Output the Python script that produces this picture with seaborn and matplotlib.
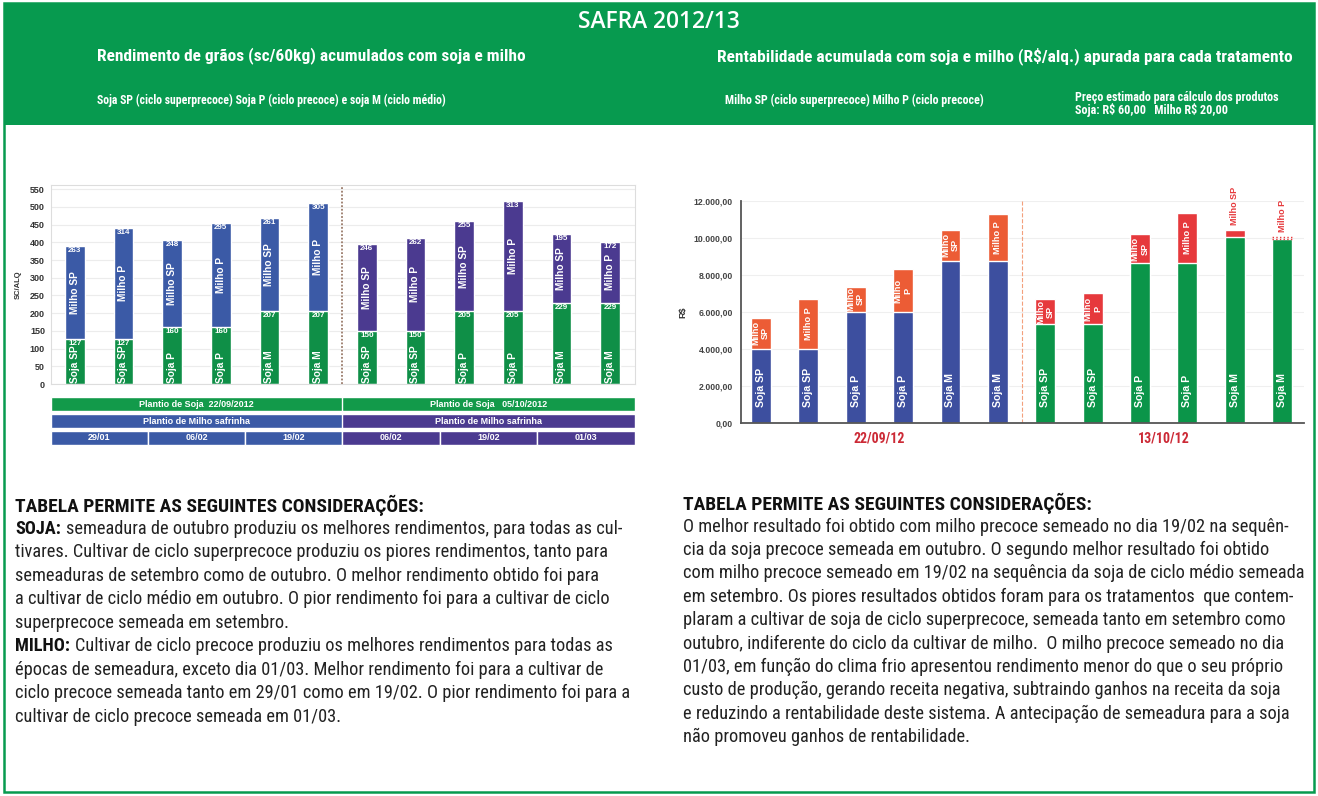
import matplotlib
matplotlib.use("Agg")
import numpy as np
import pandas as pd
import matplotlib.pyplot as plt
import seaborn as sns
from matplotlib import font_manager
from matplotlib.patches import Rectangle

# Left chart - grain yield (sc/alq), soja + milho safrinha
yield_soja = [127, 127, 160, 160, 207, 207, 150, 150, 205, 205, 229, 229]
yield_milho = [263, 314, 248, 295, 261, 305, 246, 262, 255, 313, 195, 172]
soja_names = ["Soja SP", "Soja SP", "Soja P", "Soja P", "Soja M", "Soja M"] * 2
milho_names = ["Milho SP", "Milho P"] * 6
soja_rows = ["Plantio de Soja  22/09/2012", "Plantio de Soja   05/10/2012"]
milho_row = "Plantio de Milho safrinha"
milho_dates = ["29/01", "06/02", "19/02", "06/02", "19/02", "01/03"]

# Right chart - accumulated profit (R$/alq)
profit_soja = [4000, 4000, 6000, 6000, 8780, 8780, 5350, 5350, 8660, 8660, 10070, 10070]
profit_milho = [1700, 2700, 1370, 2310, 1650, 2520, 1350, 1660, 1540, 2670, 360, -140]
profit_milho_labels = ["Milho\nSP", "Milho P", "Milho\nSP", "Milho\nP", "Milho\nSP", "Milho P",
                       "Milho\nSP", "Milho\nP", "Milho\nSP", "Milho P", "Milho SP", "Milho P"]
profit_groups = ["22/09/12", "13/10/12"]

TITLE = "SAFRA 2012/13"
LEFT_TITLE = "Rendimento de grãos (sc/60kg) acumulados com soja e milho"
RIGHT_TITLE = "Rentabilidade acumulada com soja e milho (R$/alq.) apurada para cada tratamento"
LEFT_SUB = "Soja SP (ciclo superprecoce) Soja P (ciclo precoce) e soja M (ciclo médio)"
RIGHT_SUB = "Milho SP (ciclo superprecoce) Milho P (ciclo precoce)"
PRICE_NOTE = ["Preço estimado para cálculo dos produtos", "Soja: R$ 60,00   Milho R$ 20,00"]

HEAD = "TABELA PERMITE AS SEGUINTES CONSIDERAÇÕES:"
left_lines = [
    ("SOJA:", "semeadura de outubro produziu os melhores rendimentos, para todas as cul-"),
    ("", "tivares. Cultivar de ciclo superprecoce produziu os piores rendimentos, tanto para"),
    ("", "semeaduras de setembro como de outubro. O melhor rendimento obtido foi para"),
    ("", "a cultivar de ciclo médio em outubro. O pior rendimento foi para a cultivar de ciclo"),
    ("", "superprecoce semeada em setembro."),
    ("MILHO:", "Cultivar de ciclo precoce produziu os melhores rendimentos para todas as"),
    ("", "épocas de semeadura, exceto dia 01/03. Melhor rendimento foi para a cultivar de"),
    ("", "ciclo precoce semeada tanto em 29/01 como em 19/02. O pior rendimento foi para a"),
    ("", "cultivar de ciclo precoce semeada em 01/03."),
]
right_lines = [
    "O melhor resultado foi obtido com milho precoce semeado no dia 19/02 na sequên-",
    "cia da soja precoce semeada em outubro. O segundo melhor resultado foi obtido",
    "com milho precoce semeado em 19/02 na sequência da soja de ciclo médio semeada",
    "em setembro. Os piores resultados obtidos foram para os tratamentos  que contem-",
    "plaram a cultivar de soja de ciclo superprecoce, semeada tanto em setembro como",
    "outubro, indiferente do ciclo da cultivar de milho.  O milho precoce semeado no dia",
    "01/03, em função do clima frio apresentou rendimento menor do que o seu próprio",
    "custo de produção, gerando receita negativa, subtraindo ganhos na receita da soja",
    "e reduzindo a rentabilidade deste sistema. A antecipação de semeadura para a soja",
    "não promoveu ganhos de rentabilidade.",
]

# Colours
GREEN = "#079a4f"
SOJA_GREEN = "#0f8f47"
MILHO_BLUE = "#3b5aa6"
MILHO_PURPLE = "#4b3a90"
R_SOJA_BLUE = "#3d4f9f"
R_MILHO_ORANGE = "#ec5c35"
R_SOJA_GREEN = "#0b9549"
R_MILHO_RED = "#e6393c"
DATE_RED = "#cc2a36"

W, H = 1318, 796
BAR_W = 0.41


def pick_narrow_font():
    fl = font_manager.fontManager.ttflist
    names = {f.name for f in fl}
    for name in ["Liberation Sans Narrow", "Roboto Condensed", "Open Sans Condensed",
                 "DejaVu Sans Condensed"]:
        if name in names:
            return {"family": name}
    if any(f.name == "DejaVu Sans" and str(f.stretch) in ("condensed", "semi-condensed") for f in fl):
        return {"family": "DejaVu Sans", "fontstretch": "condensed"}
    return {"family": "Roboto"}


def px_axes(fig, x0, y0, x1, y1):
    # axes placed by pixel box (top-left origin)
    return fig.add_axes([x0 / W, 1 - y1 / H, (x1 - x0) / W, (y1 - y0) / H])


def fit_text(ax, renderer, x, y, s, width, size=12, **kw):
    t = ax.text(x, y, s, fontsize=size, **kw)
    w = t.get_window_extent(renderer).width
    t.set_fontsize(size * width / w)
    return t


def fmt_brl(v):
    s = f"{v:,.2f}"
    return s.replace(",", "_").replace(".", ",").replace("_", ".")


def main():
    sns.set_style("white")
    plt.rcParams["font.family"] = ["Liberation Sans", "DejaVu Sans"]
    plt.rcParams["text.parse_math"] = False

    fig = plt.figure(figsize=(W / 100, H / 100), dpi=100)
    renderer = fig.canvas.get_renderer()
    narrow = pick_narrow_font()

    # Background / header in pixel coordinates
    bg = fig.add_axes([0, 0, 1, 1])
    bg.set_xlim(0, W)
    bg.set_ylim(H, 0)
    bg.axis("off")
    bg.add_patch(Rectangle((4, 3), 1310, 789, fill=False, ec=GREEN, lw=1.8))
    bg.add_patch(Rectangle((4, 3), 1310, 122, fc=GREEN, ec="none"))

    fit_text(bg, renderer, 659, 22, TITLE, 162, ha="center", va="center",
             color="white", family=["Open Sans", "DejaVu Sans"], fontweight="semibold")
    fit_text(bg, renderer, 97, 56, LEFT_TITLE, 430, va="center", color="white",
             fontweight="bold", **narrow)
    fit_text(bg, renderer, 717, 56, RIGHT_TITLE, 576, va="center", color="white",
             fontweight="bold", **narrow)
    fit_text(bg, renderer, 97, 100, LEFT_SUB, 352, va="center", color="white",
             fontweight="bold", **narrow)
    fit_text(bg, renderer, 725, 100, RIGHT_SUB, 260, va="center", color="white",
             fontweight="bold", **narrow)
    t = fit_text(bg, renderer, 1075, 97, PRICE_NOTE[0], 206, va="center", color="white",
                 fontweight="bold", **narrow)
    bg.text(1075, 110, PRICE_NOTE[1], va="center", color="white", fontweight="bold",
            fontsize=t.get_fontsize(), **narrow)

    # ---------------- Left chart: yield ----------------
    ax1 = px_axes(fig, 50.5, 185, 634.5, 384)
    group = np.repeat(["set", "out"], 6)
    df1 = pd.DataFrame({"pos": np.arange(12), "soja": yield_soja,
                        "total": np.add(yield_soja, yield_milho), "group": group})
    sns.barplot(df1, x="pos", y="total", hue="group", palette={"set": MILHO_BLUE, "out": MILHO_PURPLE},
                dodge=False, width=BAR_W, saturation=1, legend=False, errorbar=None, ax=ax1)
    sns.barplot(df1, x="pos", y="soja", hue="group", palette={"set": SOJA_GREEN, "out": SOJA_GREEN},
                dodge=False, width=BAR_W, saturation=1, legend=False, errorbar=None, ax=ax1)
    ax1.set_xlim(-0.5, 11.5)
    ax1.set_ylim(0, 562)
    ax1.set_yticks(np.arange(0, 551, 50))
    ax1.set_yticklabels([str(v) for v in range(0, 551, 50)], fontsize=6.5, fontweight="bold", color="#333333")
    ax1.set_xticks([])
    ax1.set_xlabel("")
    ax1.set_ylabel("SC/ALQ", fontsize=5.5, fontweight="bold", color="#333333")
    ax1.yaxis.set_label_coords(-0.05, 0.5)
    ax1.tick_params(axis="y", length=0, pad=4)
    ax1.grid(axis="y", color="#ececec", lw=0.8)
    ax1.set_axisbelow(True)
    for sp in ax1.spines.values():
        sp.set_color("#dddddd")
        sp.set_linewidth(0.8)
    ax1.axvline(5.5, color="#9a7b6a", ls=(0, (1, 1)), lw=1.3)

    for i in range(12):
        s, m = yield_soja[i], yield_milho[i]
        ax1.text(i, 4, soja_names[i], rotation=90, ha="center", va="bottom",
                 color="white", fontsize=7.3, fontweight="bold")
        ax1.text(i, s - 3, str(s), ha="center", va="top", color="white", fontsize=5.8, fontweight="bold")
        ax1.text(i, s + m / 2, milho_names[i], rotation=90, ha="center", va="center",
                 color="white", fontsize=7.3, fontweight="bold")
        ax1.text(i, s + m - 3, str(m), ha="center", va="top", color="white", fontsize=5.8, fontweight="bold")

    # table under the left chart
    tab = px_axes(fig, 50.5, 396, 634.5, 447)
    tab.set_xlim(-0.5, 11.5)
    tab.set_ylim(51, 0)
    tab.axis("off")
    row_fill = [MILHO_BLUE, MILHO_PURPLE]
    for k in range(2):
        x0 = -0.5 + 6 * k
        tab.add_patch(Rectangle((x0, 1), 6, 14, fc="#129a4a", ec="white", lw=1))
        tab.text(x0 + 3, 8, soja_rows[k], ha="center", va="center", color="white", fontsize=6.5, fontweight="bold")
        tab.add_patch(Rectangle((x0, 18), 6, 14, fc=row_fill[k], ec="white", lw=1))
        tab.text(x0 + 3, 25, milho_row, ha="center", va="center", color="white", fontsize=6.5, fontweight="bold")
    for j, d in enumerate(milho_dates):
        x0 = -0.5 + 2 * j
        tab.add_patch(Rectangle((x0, 35), 2, 14, fc=row_fill[j // 3], ec="white", lw=1))
        tab.text(x0 + 1, 42, d, ha="center", va="center", color="white", fontsize=6.5, fontweight="bold")

    # ---------------- Right chart: profit ----------------
    ax2 = px_axes(fig, 741, 201, 1304, 423)
    total2 = np.add(profit_soja, profit_milho)
    df2 = pd.DataFrame({"pos": np.arange(12), "total": total2,
                        "base": np.minimum(profit_soja, total2), "group": group})
    sns.barplot(df2, x="pos", y="total", hue="group", palette={"set": R_MILHO_ORANGE, "out": R_MILHO_RED},
                dodge=False, width=0.42, saturation=1, legend=False, errorbar=None, ax=ax2)
    sns.barplot(df2, x="pos", y="base", hue="group", palette={"set": R_SOJA_BLUE, "out": R_SOJA_GREEN},
                dodge=False, width=0.42, saturation=1, legend=False, errorbar=None, ax=ax2)
    ax2.set_xlim(-0.42, 11.46)
    ax2.set_ylim(0, 12000)
    yt = np.arange(0, 12001, 2000)
    ax2.set_yticks(yt)
    ax2.set_yticklabels([fmt_brl(v) for v in yt], fontsize=6.3, fontweight="bold", color="#444444")
    ax2.set_xticks([])
    ax2.set_xlabel("")
    ax2.set_ylabel("R$", fontsize=6.5, fontweight="bold", color="#333333")
    ax2.yaxis.set_label_coords(-0.095, 0.5)
    ax2.tick_params(axis="y", length=0, pad=6)
    ax2.grid(axis="y", color="#efefef", lw=0.8)
    ax2.set_axisbelow(True)
    for side in ["top", "right"]:
        ax2.spines[side].set_visible(False)
    for side in ["left", "bottom"]:
        ax2.spines[side].set_color("#555555")
        ax2.spines[side].set_linewidth(1.3)
    ax2.axvline(5.5, color="#f3a07c", ls="--", lw=0.8)

    for i in range(12):
        s, m = profit_soja[i], profit_milho[i]
        red = R_MILHO_ORANGE if i < 6 else R_MILHO_RED
        ax2.text(i, 850, soja_names[i], rotation=90, ha="center", va="bottom",
                 color="white", fontsize=7.6, fontweight="bold")
        if i < 10:
            ax2.text(i, s + m / 2, profit_milho_labels[i], rotation=90, ha="center", va="center",
                     color="white", fontsize=6.6, fontweight="bold", linespacing=1.1)
        else:
            ax2.text(i, max(s, s + m) + 250, profit_milho_labels[i], rotation=90, ha="center",
                     va="bottom", color=red, fontsize=6.5, fontweight="bold", clip_on=False)
        if m < 0:
            ax2.bar(i, -m, bottom=s + m, width=0.42, fill=False, edgecolor=red, ls=":", lw=1)

    for k, lab in enumerate(profit_groups):
        ax2.text(2.5 + 6 * k, -820, lab, ha="center", va="center", color=DATE_RED,
                 fontsize=10, fontweight="bold", clip_on=False, **narrow)

    # ---------------- Text blocks ----------------
    head_l = fit_text(bg, renderer, 15, 505, HEAD, 407, va="center", color="#111111",
                      fontweight="bold", **narrow)
    bg.text(683, 503, HEAD, va="center", color="#111111", fontweight="bold",
            fontsize=head_l.get_fontsize(), **narrow)

    # body size: widest line fits the 618 px column
    probe = bg.text(0, 0, "", fontsize=12, **narrow)
    ratios = []
    for lead, rest in left_lines:
        probe.set_text((lead + " " + rest).strip())
        ratios.append(618 / probe.get_window_extent(renderer).width)
    for line in right_lines:
        probe.set_text(line)
        ratios.append(618 / probe.get_window_extent(renderer).width)
    probe.remove()
    size = 12 * min(ratios)

    for n, (lead, rest) in enumerate(left_lines):
        y = 528.5 + 23.5 * n
        x = 15
        if lead:
            t = bg.text(x, y, lead, va="center", color="#111111", fontweight="bold", fontsize=size, **narrow)
            x += t.get_window_extent(renderer).width + size * 0.35
        bg.text(x, y, rest, va="center", color="#222222", fontsize=size, **narrow)

    for n, line in enumerate(right_lines):
        bg.text(683, 526.5 + 23.4 * n, line, va="center", color="#222222", fontsize=size, **narrow)

    fig.savefig("out.png", dpi=100)
    plt.close(fig)


if __name__ == "__main__":
    main()
